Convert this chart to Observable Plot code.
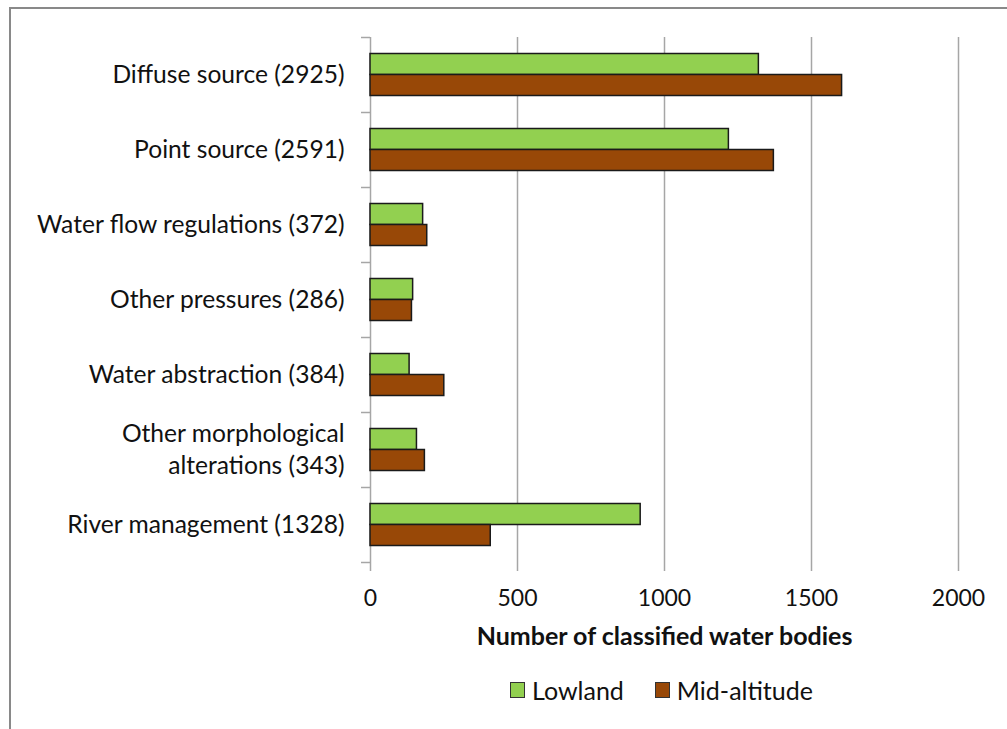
<!DOCTYPE html>
<html>
<head>
<meta charset="utf-8">
<script src="https://cdn.jsdelivr.net/npm/d3@7"></script>
<script src="https://cdn.jsdelivr.net/npm/@observablehq/plot@0.6"></script>
<style>
  html, body { margin: 0; padding: 0; background: #fff; }
  body { position: relative; width: 1007px; height: 729px; overflow: hidden; font-family: Lato, "Open Sans", sans-serif; }
  #frame { position: absolute; left: 9px; top: 7px; width: 1100px; height: 800px; border-left: 2px solid #898989; border-top: 2px solid #898989; box-sizing: border-box; }
  #chart { position: absolute; left: 0; top: 0; }
  #chart svg [aria-label="x-axis label"] text { font-weight: bold; font-size: 25px; }
  #legend { position: absolute; top: 675px; left: 510px; display: flex; align-items: center; font-size: 25px; color: #111; line-height: 30px; }
  .item { display: flex; align-items: center; margin-right: 31px; }
  .sw { width: 13px; height: 14px; border: 1px solid #333; margin-right: 7px; }
</style>
</head>
<body>
<div id="frame"></div>
<div id="chart"></div>
<div id="legend"></div>
<script>
const categories = ["Diffuse source", "Point source", "Water flow regulations", "Other pressures", "Water abstraction", "Other morphological\nalterations", "River management"];
const totals = [2925, 2591, 372, 286, 384, 343, 1328];
const series = ["Lowland", "Mid-altitude"];
const lowland = [1321, 1219, 179, 145, 133, 158, 919];
const midAltitude = [1604, 1372, 193, 141, 251, 185, 409];
const xTicks = [0, 500, 1000, 1500, 2000];
const colors = ["#92D050", "#984807"];

const labels = categories.map((c, i) => `${c} (${totals[i]})`);
const rows = labels.flatMap((lab, i) => [
  {cat: lab, series: series[0], value: lowland[i]},
  {cat: lab, series: series[1], value: midAltitude[i]}
]);

const chart = Plot.plot({
  width: 1007,
  height: 660,
  marginLeft: 370,
  marginRight: 49,
  marginTop: 37,
  marginBottom: 98,
  style: {fontFamily: "Lato, 'Open Sans', sans-serif", fontSize: "22px", color: "#111", background: "transparent"},
  x: {domain: [0, 2000]},
  y: {domain: labels, padding: 0},
  color: {domain: series, range: colors},
  marks: [
    Plot.ruleX(xTicks.slice(1), {stroke: "#a6a6a6", strokeWidth: 1.5, strokeOpacity: 1}),
    Plot.ruleX([0], {stroke: "#a6a6a6", strokeWidth: 1.5}),
    Plot.ruleY(labels, {y: d => d, dy: -37.5, insetLeft: -9, insetRight: 588, stroke: "#a6a6a6", strokeWidth: 1.5}),
    Plot.ruleY(labels.slice(-1), {y: d => d, dy: 37.5, insetLeft: -9, insetRight: 588, stroke: "#a6a6a6", strokeWidth: 1.5}),
    Plot.barX(rows.filter(d => d.series === series[0]), {x: "value", y: "cat", fill: "series", stroke: "#1a1a1a", strokeWidth: 1.5, insetTop: 16.5, insetBottom: 37.5}),
    Plot.barX(rows.filter(d => d.series === series[1]), {x: "value", y: "cat", fill: "series", stroke: "#1a1a1a", strokeWidth: 1.5, insetTop: 37.5, insetBottom: 16.5}),
    Plot.axisY({tickSize: 0, tickPadding: 26, lineHeight: 1.27, label: null, fontSize: 24.6, dy: -2}),
    Plot.ruleY([0], {frameAnchor: "bottom", stroke: "#a6a6a6", strokeWidth: 1.5}),
    Plot.axisX({ticks: xTicks, tickFormat: d => String(d), tickSize: 9, tickPadding: 18, stroke: "#a6a6a6", strokeWidth: 1.5, fontSize: 23, label: "Number of classified water bodies", labelAnchor: "center", labelArrow: "none", labelOffset: 82})
  ]
});
document.getElementById("chart").appendChild(chart);

const legend = document.getElementById("legend");
series.forEach((s, i) => {
  const item = document.createElement("div");
  item.className = "item";
  const sw = document.createElement("span");
  sw.className = "sw";
  sw.style.background = colors[i];
  const t = document.createElement("span");
  t.textContent = s;
  item.appendChild(sw);
  item.appendChild(t);
  legend.appendChild(item);
});
</script>
</body>
</html>
